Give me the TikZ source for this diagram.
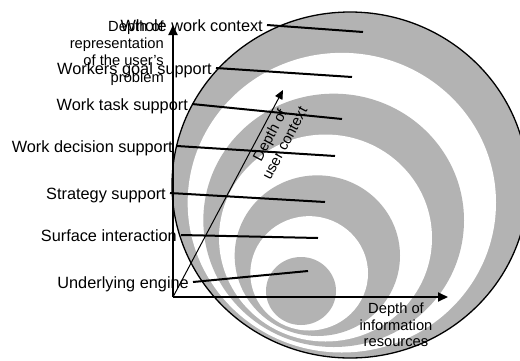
\documentclass[tikz,border=0pt]{standalone}
\usepackage{fontspec}
\setmainfont{Liberation Sans}
\usetikzlibrary{arrows.meta}
\definecolor{ringgray}{RGB}{179,179,179}
\begin{document}
\begin{tikzpicture}[x=1pt,y=-1pt,
  ring/.style={fill=ringgray,draw=none},
  gap/.style={fill=white,draw=none},
  rim/.style={draw=black,line width=1.3pt},
  axis/.style={line width=2pt,-{Triangle[length=10pt,width=9pt]}},
  diag/.style={line width=1pt,-{Triangle[length=9pt,width=8pt]}},
  lead/.style={line width=2pt},
  lvl/.style={font=\fontsize{16.3}{18}\selectfont, anchor=base east,
              inner xsep=4pt, inner ysep=0pt, text height=12pt, text depth=0pt},
  ax/.style={font=\fontsize{14.7}{16.8}\selectfont, inner sep=0pt}]
\path[use as bounding box, clip] (0,0) rectangle (520,360);
% nested rings
\foreach \k in {0,...,6}{
  \pgfmathsetmacro{\cx}{350-49*\k/6}
  \pgfmathsetmacro{\cy}{185+106*\k/6}
  \pgfmathsetmacro{\rx}{178-143*\k/6}
  \pgfmathsetmacro{\ry}{173-139*\k/6}
  \pgfmathtruncatemacro{\odd}{mod(\k,2)}
  \ifnum\odd=0
    \path[ring] (\cx,\cy) ellipse [x radius=\rx pt, y radius=\ry pt];
  \else
    \path[gap] (\cx,\cy) ellipse [x radius=\rx pt, y radius=\ry pt];
  \fi
}
\draw[rim] (350,185) ellipse [x radius=178pt, y radius=173pt];
% axes
\coordinate (O) at (173,297);
\coordinate (ytip) at (173,25);
\coordinate (xtip) at (448,297);
\coordinate (dtip) at (283,90);
\draw[axis] (O) -- (ytip);
\draw[axis] (O) -- (xtip);
\draw[diag] (O) -- (dtip);
% axis labels
\node[ax, align=right, anchor=north east] (ylab) at (164,21)
  {Depth of\\representation\\of the user's\\problem};
\node[ax, align=center, anchor=north] (xlab) at (396,302.5)
  {Depth of\\information\\resources};
\node[ax, align=center, rotate=62] (dlab) at (277,139)
  {Depth of\\user context};
% level labels
\node[lvl] (l1) at (267,31) {Whole work context};
\node[lvl] (l2) at (216,74) {Workers goal support};
\node[lvl] (l3) at (192,110) {Work task support};
\node[lvl] (l4) at (177,152) {Work decision support};
\node[lvl] (l5) at (170,199) {Strategy support};
\node[lvl] (l6) at (181,241) {Surface interaction};
\node[lvl] (l7) at (193,288) {Underlying engine};
\coordinate (e1) at (363,32);
\coordinate (e2) at (352,77);
\coordinate (e3) at (342,119);
\coordinate (e4) at (335,156);
\coordinate (e5) at (325,202);
\coordinate (e6) at (318,238);
\coordinate (e7) at (308,271);
\foreach \i in {1,...,7}{\draw[lead] (l\i.east) -- (e\i);}
\end{tikzpicture}
\end{document}
